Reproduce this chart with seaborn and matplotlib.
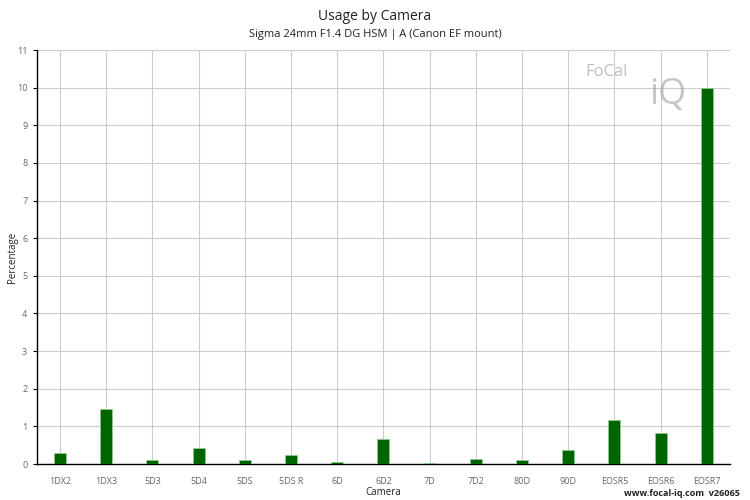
import matplotlib
matplotlib.use("Agg")
import matplotlib.pyplot as plt
import seaborn as sns
import pandas as pd

cameras = ["1DX2", "1DX3", "5D3", "5D4", "5DS", "5DS R", "6D", "6D2", "7D", "7D2",
           "80D", "90D", "EOSR5", "EOSR6", "EOSR7"]
percentages = [0.29, 1.46, 0.10, 0.42, 0.10, 0.23, 0.05, 0.66, 0.03, 0.12,
               0.10, 0.38, 1.16, 0.83, 10.0]
y_ticks = list(range(0, 12))

sns.set_theme(style="white")
plt.rcParams['font.family'] = ['Open Sans', 'DejaVu Sans']

df = pd.DataFrame({"Camera": cameras, "Percentage": percentages})

fig = plt.figure(figsize=(7.5, 5), dpi=100)
ax = fig.add_axes([0.0493, 0.072, 0.924, 0.828])

sns.barplot(data=df, x="Camera", y="Percentage", color="#006400", width=0.26,
            edgecolor="#8fc98f", linewidth=0.6, saturation=1, ax=ax, zorder=3)

ax.set_xlim(-0.5, len(cameras) - 0.5)
ax.set_ylim(0, 11)
ax.set_yticks(y_ticks)
ax.set_axisbelow(True)
ax.grid(True, axis="both", color="#cccccc", linewidth=0.8)
for s in ["top", "right"]:
    ax.spines[s].set_visible(False)
for s in ["left", "bottom"]:
    ax.spines[s].set_color("black")
    ax.spines[s].set_linewidth(1.0)
ax.tick_params(axis="y", labelsize=6.5, labelcolor="#666666", colors="black",
               length=3, width=0.8, left=True, pad=4)
ax.tick_params(axis="x", labelsize=6.5, labelcolor="#666666", bottom=False, pad=3)
ax.set_xlabel("Camera", fontsize=7, color="#222222")
ax.set_ylabel("Percentage", fontsize=7, color="#222222")
ax.yaxis.set_label_coords(-0.027, 0.5)
ax.xaxis.set_label_coords(0.5, -0.055)

fig.text(0.5, 0.968, "Usage by Camera", ha="center", va="center", fontsize=10, color="#222222")
fig.text(0.5, 0.932, "Sigma 24mm F1.4 DG HSM | A (Canon EF mount)", ha="center", va="center",
         fontsize=8, color="#222222")

# watermark approximation
fig.text(0.78, 0.855, "FoCal", ha="left", va="center", fontsize=12, color="#b0b0b0", alpha=0.8)
fig.text(0.865, 0.81, "iQ", ha="left", va="center", fontsize=26, color="#a0a0a0", alpha=0.6)

fig.text(0.987, 0.012, "www.focal-iq.com  v26065", ha="right", va="center", fontsize=6.5,
         color="#222222", fontweight="bold")

fig.savefig("out.png", dpi=100)
